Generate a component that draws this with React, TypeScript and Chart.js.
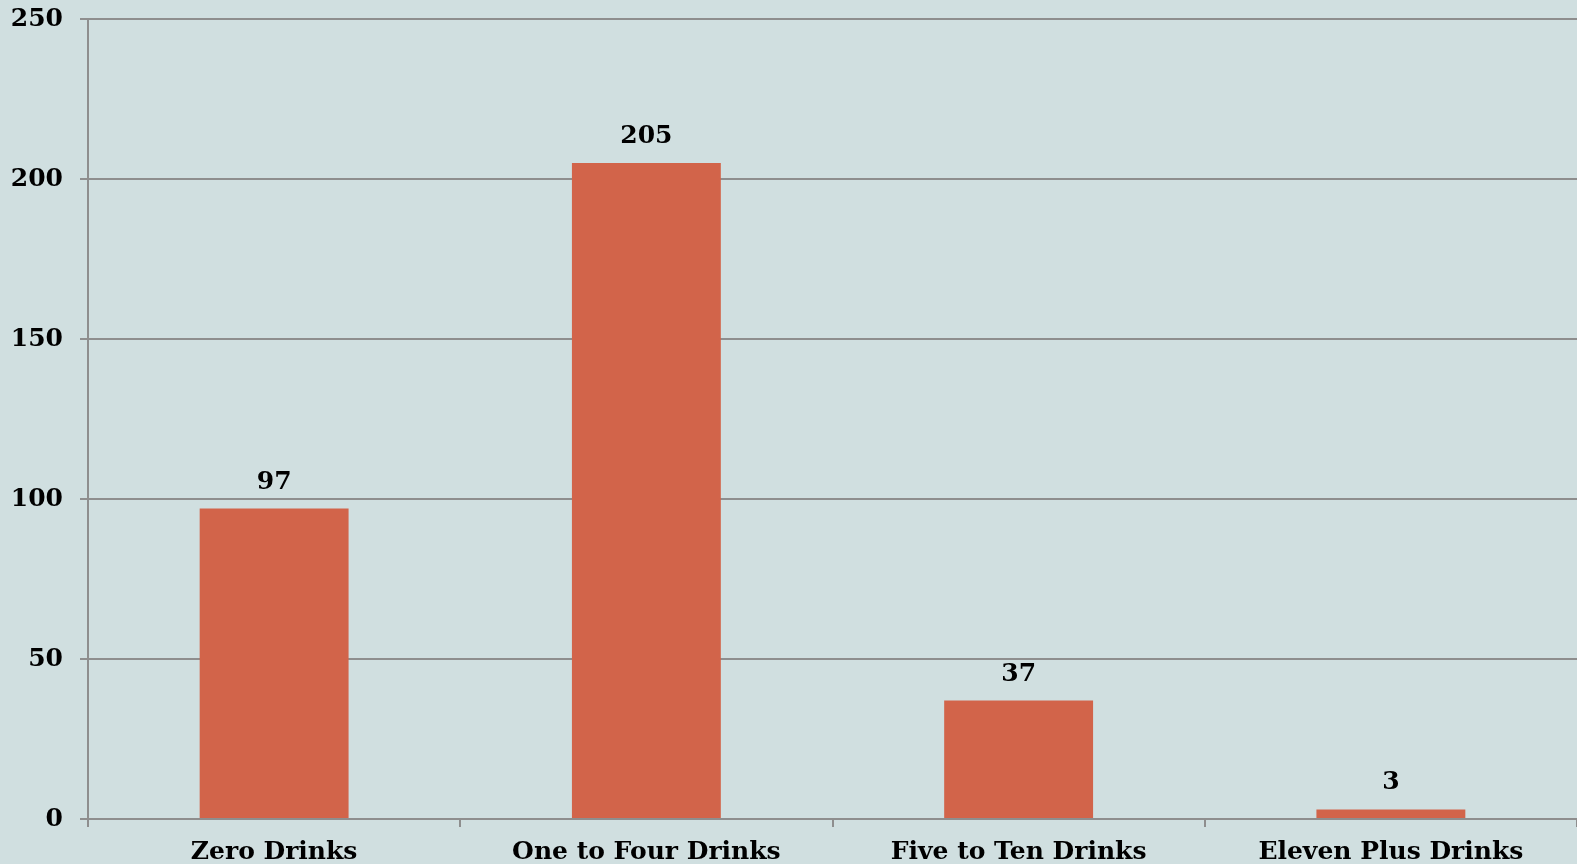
import React, { useEffect, useRef } from "react";
import { Chart, registerables } from "chart.js";

Chart.register(...registerables);

const categories = ["Zero Drinks", "One to Four Drinks", "Five to Ten Drinks", "Eleven Plus Drinks"];
const counts = [97, 205, 37, 3];
const yTicks = [0, 50, 100, 150, 200, 250];

const BG = "#d0dfe0";
const BAR = "#d2644a";
const GRID = "#8e8e8e";
const FONT = "'DejaVu Serif', serif";

const valueLabels = {
  id: "valueLabels",
  afterDatasetsDraw(chart: any) {
    const ctx = chart.ctx;
    const meta = chart.getDatasetMeta(0);
    ctx.save();
    ctx.font = `bold 25px ${FONT}`;
    ctx.fillStyle = "#000";
    ctx.textAlign = "center";
    ctx.textBaseline = "bottom";
    meta.data.forEach((el: any, i: number) => {
      ctx.fillText(String(counts[i]), el.x, el.y - 14);
    });
    ctx.restore();
  },
};

const bgPlugin = {
  id: "bg",
  beforeDraw(chart: any) {
    const ctx = chart.ctx;
    ctx.save();
    ctx.fillStyle = BG;
    ctx.fillRect(0, 0, chart.width, chart.height);
    ctx.restore();
  },
};

export default function App() {
  const ref = useRef<HTMLCanvasElement>(null);
  useEffect(() => {
    document.body.style.margin = "0";
    document.body.style.background = BG;
    const chart = new Chart(ref.current!, {
      type: "bar",
      data: {
        labels: categories,
        datasets: [
          {
            data: counts,
            backgroundColor: BAR,
            barPercentage: 1,
            categoryPercentage: 0.4,
          },
        ],
      },
      options: {
        responsive: false,
        animation: false,
        layout: { padding: { top: 19, right: 0, left: 0, bottom: 0 } },
        plugins: { legend: { display: false }, tooltip: { enabled: false } },
        scales: {
          x: {
            afterFit: (s: any) => {
              s.height = 45;
              s.paddingLeft = 0;
              s.paddingRight = 0;
            },
            grid: {
              drawOnChartArea: false,
              drawTicks: true,
              tickLength: 8,
              color: GRID,
              lineWidth: 2,
              offset: true,
            },
            border: { display: true, color: GRID, width: 2 },
            ticks: {
              color: "#000",
              font: { family: FONT, weight: "bold", size: 25 },
              padding: 10,
              maxRotation: 0,
              autoSkip: false,
            },
          },
          y: {
            min: 0,
            max: 250,
            afterFit: (s: any) => {
              s.width = 88;
              s.paddingTop = 0;
              s.paddingBottom = 0;
            },
            afterBuildTicks: (s: any) => {
              s.ticks = yTicks.map((v) => ({ value: v }));
            },
            grid: {
              color: GRID,
              lineWidth: 2,
              tickLength: 8,
            },
            border: { display: true, color: GRID, width: 2 },
            ticks: {
              color: "#000",
              font: { family: FONT, weight: "bold", size: 25 },
              padding: 17,
            },
          },
        },
      },
      plugins: [bgPlugin, valueLabels],
    });
    return () => chart.destroy();
  }, []);
  return (
    <div style={{ width: 1577, height: 864, background: BG }}>
      <canvas ref={ref} width={1577} height={864} style={{ display: "block" }} />
    </div>
  );
}
